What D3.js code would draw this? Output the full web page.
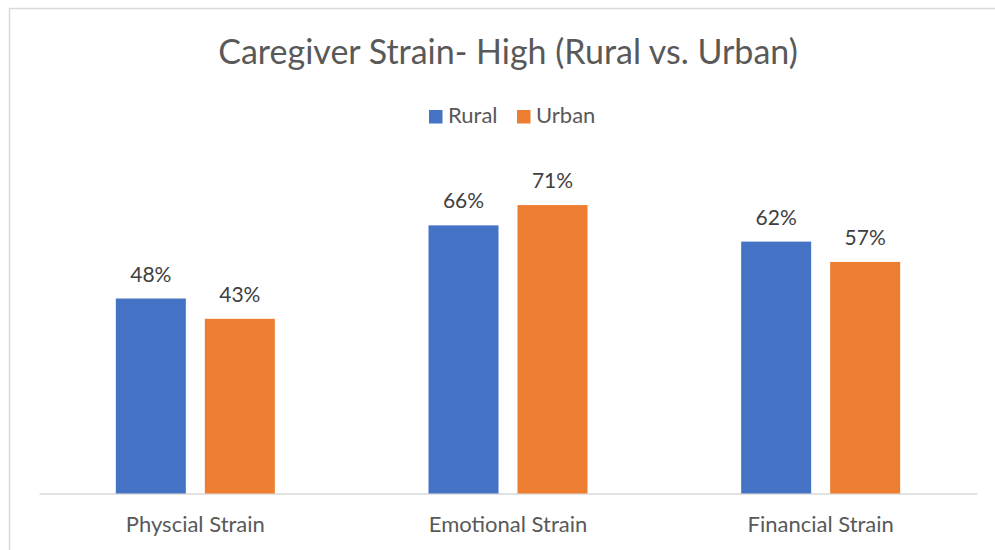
<!DOCTYPE html>
<html>
<head>
<meta charset="utf-8">
<script src="https://cdn.jsdelivr.net/npm/d3@7"></script>
<style>
  body { margin: 0; background: #fff; }
  text { font-family: Lato, "Open Sans", sans-serif; }
</style>
</head>
<body>
<script>
// chart data
var categories = ["Physcial Strain", "Emotional Strain", "Financial Strain"];
var seriesNames = ["Rural", "Urban"];
var rural = [0.48, 0.66, 0.62];
var urban = [0.43, 0.71, 0.57];
var colors = ["#4472C4", "#ED7D31"];
var titleText = "Caregiver Strain- High (Rural vs. Urban)";

// canvas area
var width = 995, height = 550;
var plot = {left: 39, right: 977, top: 168.5, bottom: 493.5};

var svg = d3.select("body").append("svg")
    .attr("width", width)
    .attr("height", height);

// chart border
svg.append("rect")
    .attr("x", 9.5).attr("y", 8.5)
    .attr("width", 1000).attr("height", 600)
    .style("fill", "none")
    .style("stroke", "#d9d9d9")
    .style("stroke-width", 1.5);

var rows = categories.map(function(c, i) {
  return {cat: c, values: [rural[i], urban[i]]};
});

var x0 = d3.scaleBand().domain(categories).range([plot.left, plot.right]);

// two bars of 70px with a 19px gap, centred in each band
var groupW = 159;
var x1 = d3.scaleBand().domain(seriesNames)
    .range([x0.bandwidth() / 2 - groupW / 2, x0.bandwidth() / 2 + groupW / 2])
    .paddingInner(0.2135);

var y = d3.scaleLinear().domain([0, 0.8]).range([plot.bottom, plot.top]);

// title
svg.append("text")
    .attr("x", 508).attr("y", 64)
    .style("text-anchor", "middle")
    .style("font-size", "34px")
    .style("fill", "#595959")
    .text(titleText);

// legend
var legend = svg.append("g").attr("transform", "translate(429,110)");
var legendX = [0, 88];
seriesNames.forEach(function(s, i) {
  var g = legend.append("g").attr("transform", "translate(" + legendX[i] + ",0)");
  g.append("rect").attr("width", 13.5).attr("height", 13.5).style("fill", colors[i]);
  g.append("text")
      .attr("x", 19).attr("y", 13)
      .style("font-size", "22px")
      .style("fill", "#595959")
      .text(s);
});

// x axis
var xAxis = d3.axisBottom(x0).tickSize(0).tickSizeOuter(0).tickPadding(0);
var ax = svg.append("g")
    .attr("class", "x axis")
    .attr("transform", "translate(0," + plot.bottom + ")")
    .call(xAxis);
ax.select(".domain").style("stroke", "#d9d9d9").style("stroke-width", 1.5);
ax.selectAll(".tick text")
    .attr("y", 38)
    .attr("dy", 0)
    .style("font-family", "Lato, sans-serif")
    .style("font-size", "22px")
    .style("fill", "#595959");

// bars
var groups = svg.selectAll(".group")
    .data(rows)
  .enter().append("g")
    .attr("class", "group")
    .attr("transform", function(d) { return "translate(" + x0(d.cat) + ",0)"; });

groups.selectAll("rect")
    .data(function(d) { return d.values.map(function(v, i) { return {s: seriesNames[i], v: v, i: i}; }); })
  .enter().append("rect")
    .attr("x", function(d) { return x1(d.s); })
    .attr("y", function(d) { return y(d.v); })
    .attr("width", x1.bandwidth())
    .attr("height", function(d) { return y(0) - y(d.v); })
    .style("fill", function(d) { return colors[d.i]; });

groups.selectAll(".label")
    .data(function(d) { return d.values.map(function(v, i) { return {s: seriesNames[i], v: v}; }); })
  .enter().append("text")
    .attr("class", "label")
    .attr("x", function(d) { return x1(d.s) + x1.bandwidth() / 2; })
    .attr("y", function(d) { return y(d.v) - 17; })
    .style("text-anchor", "middle")
    .style("font-size", "21px")
    .style("fill", "#404040")
    .text(function(d) { return d3.format(".0%")(d.v); });
</script>
</body>
</html>
